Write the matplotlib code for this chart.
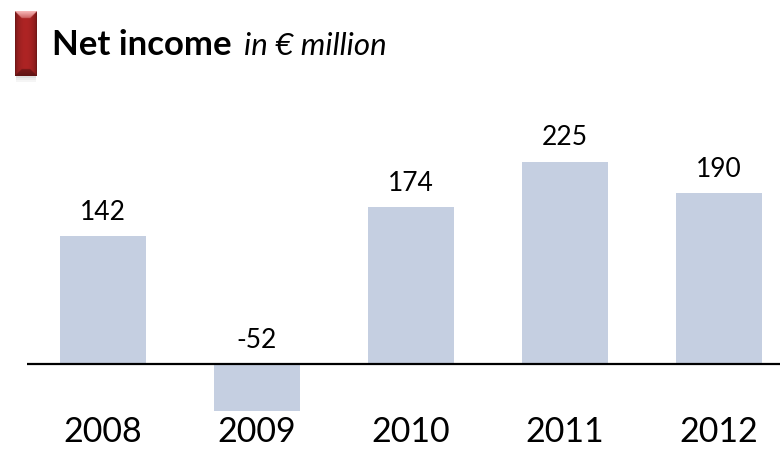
import matplotlib
matplotlib.use("Agg")
import matplotlib.pyplot as plt
import numpy as np

plt.rcParams['font.family'] = ['Lato', 'DejaVu Sans']

years = ['2008', '2009', '2010', '2011', '2012']
net_income = [142, -52, 174, 225, 190]

bar_color = '#c5cfe1'

fig = plt.figure(figsize=(7.8, 4.51), dpi=100)
ax = fig.add_axes([0, 0, 1, 1])

# pixel layout: bar pitch 154 px, first bar centre at 103 px, zero line at 364 px
px_per_unit = 0.9
zero_px = 364
ax.set_xlim(-103 / 154, (780 - 103) / 154)
ax.set_ylim(-(451 - zero_px) / px_per_unit, zero_px / px_per_unit)
ax.axis('off')

x = np.arange(len(years))
ax.bar(x, net_income, width=0.56, color=bar_color, zorder=1)
ax.hlines(0, (27 - 103) / 154, ax.get_xlim()[1], color='black', lw=1.6, zorder=2)

for xi, v in zip(x, net_income):
    ax.annotate(str(v), (xi, max(v, 0)), xytext=(0, 8), textcoords='offset points',
                ha='center', va='bottom', fontsize=19, color='black')

# year labels below the zero line
year_y = (zero_px - 442) / px_per_unit
for xi, yr in zip(x, years):
    ax.text(xi, year_y, yr, ha='center', va='baseline', fontsize=24.5, color='black')

# overlay in pixel coordinates for the title and the red marker
ov = fig.add_axes([0, 0, 1, 1], facecolor='none')
ov.set_xlim(0, 780)
ov.set_ylim(451, 0)
ov.axis('off')

# bevelled red marker: shaded body, light top cap, darker bottom cap
w, h = 44, 130
t = np.linspace(0, 1, w)
shade = 0.6 + 0.4 * np.sin(np.pi * t) ** 0.5
body = np.array([0.68, 0.14, 0.14])
img = shade[None, :, None] * body[None, None, :] * np.ones((h, 1, 1))
cap = 14
for r in range(cap):
    f = 1 - r / cap
    lo, hi = r, w - r
    img[r, lo:hi] = body + (np.array([0.97, 0.72, 0.72]) - body) * (0.4 + 0.6 * f)
    img[h - 1 - r, lo:hi] = body * (0.55 + 0.15 * (1 - f))
ov.imshow(np.clip(img, 0, 1), extent=(15, 37, 76, 11), aspect='auto',
          interpolation='bilinear', zorder=3)
# soft shadow under the marker
for k, a in enumerate([0.25, 0.15, 0.08]):
    ov.fill_between([16, 36], 76 + k * 2, 78 + k * 2, color='gray', alpha=a, lw=0)

ov.text(52, 55, 'Net income', fontsize=25, fontweight='bold', ha='left', va='baseline')
ov.text(244, 55, 'in € million', fontsize=22.5, fontstyle='italic', ha='left', va='baseline')

fig.savefig('out.png', dpi=100)
